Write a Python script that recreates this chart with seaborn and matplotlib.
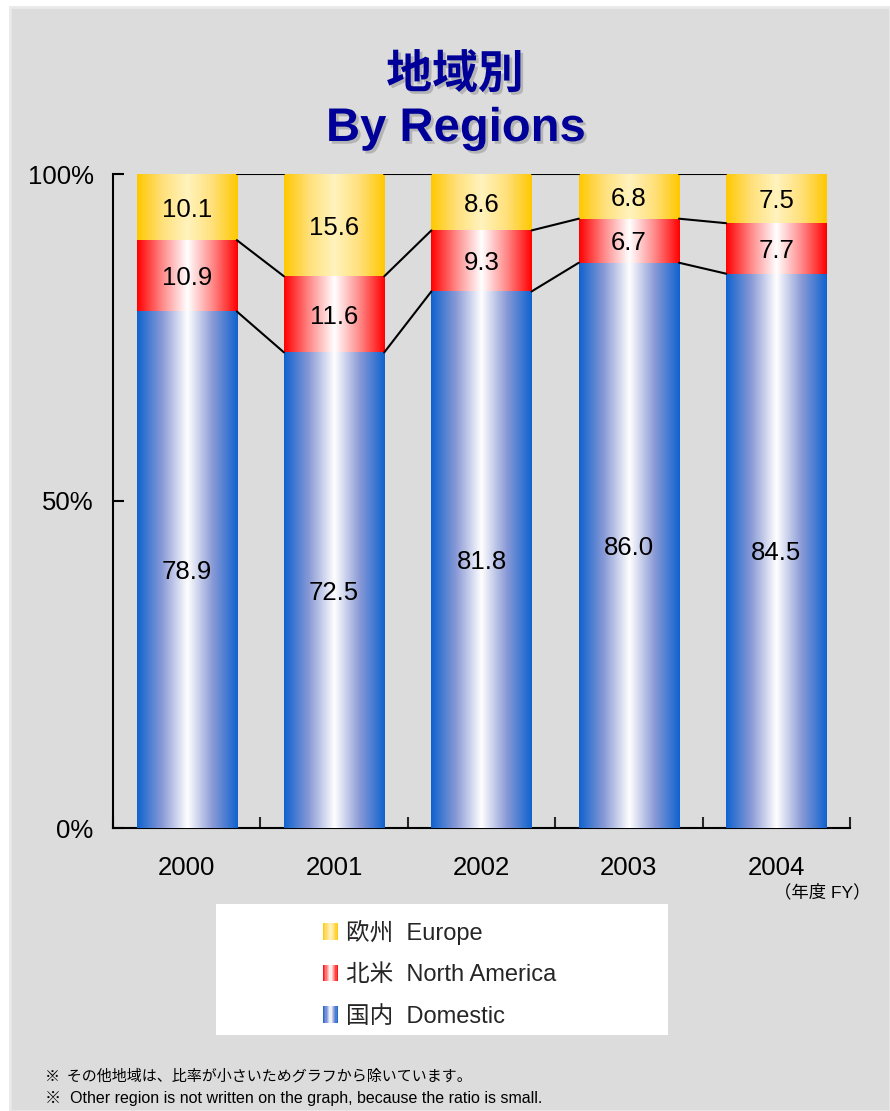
import numpy as np
import pandas as pd
import matplotlib
matplotlib.use("Agg")
import matplotlib.pyplot as plt
import matplotlib.patheffects as pe
import seaborn as sns
from matplotlib.colors import LinearSegmentedColormap
from matplotlib.patches import Rectangle, Patch
from matplotlib.legend_handler import HandlerBase

# ======================================
# DATA
# ======================================
years = ["2000", "2001", "2002", "2003", "2004"]
domestic = [78.9, 72.5, 81.8, 86.0, 84.5]
north_america = [10.9, 11.6, 9.3, 6.7, 7.7]
europe = [10.1, 15.6, 8.6, 6.8, 7.5]

regions = ["domestic", "north_america", "europe"]
legend_labels = {
    "europe": "欧州  Europe",
    "north_america": "北米  North America",
    "domestic": "国内  Domestic",
}
yticks = [0, 50, 100]
ytick_labels = ["0%", "50%", "100%"]

# ======================================
# STYLE
# ======================================
sns.set_theme(style="white")
FONTS = ["Liberation Sans", "Noto Sans CJK JP", "DejaVu Sans"]
plt.rcParams["font.family"] = FONTS

BG = "#dcdcdc"
cmaps = {
    "domestic": LinearSegmentedColormap.from_list(
        "dom", ["#0f62cf", "#8a9ad6", "#ffffff", "#8a9ad6", "#0f62cf"]),
    "north_america": LinearSegmentedColormap.from_list(
        "na", ["#ff0000", "#ff8a8a", "#ffffff", "#ff8a8a", "#ff0000"]),
    "europe": LinearSegmentedColormap.from_list(
        "eu", ["#ffc800", "#ffe07a", "#fff3bd", "#ffe07a", "#ffc800"]),
}

df = pd.DataFrame({"year": years, "domestic": domestic,
                   "north_america": north_america, "europe": europe})
# 100% stacked: shares of the shown regions
share = df[regions].div(df[regions].sum(axis=1), axis=0) * 100

fig = plt.figure(figsize=(8.9, 11.11), dpi=100, facecolor="white")
W, H = 890, 1111
fig.patches.append(Rectangle((10 / W, 0), (W - 10) / W, (H - 7) / H,
                             transform=fig.transFigure, facecolor=BG,
                             edgecolor="#e9e9e9", linewidth=2, zorder=-10))

ax = fig.add_axes([113 / W, 1 - 828 / H, (850 - 113) / W, (828 - 174) / H])
ax.set_facecolor("none")
ax.set_zorder(2)

# ======================================
# STACKED BARS
# ======================================
bottom = np.zeros(len(years))
bar_groups = {}
for reg in regions:
    n_before = len(ax.patches)
    sns.barplot(x=df["year"], y=share[reg], bottom=bottom, ax=ax,
                color="white", width=0.68, errorbar=None,
                linewidth=0, zorder=2)
    bar_groups[reg] = ax.patches[n_before:]
    bottom = bottom + share[reg].values

# gradient fill for every segment
grad = np.linspace(0, 1, 256).reshape(1, -1)
for reg in regions:
    for p in bar_groups[reg]:
        x0, y0 = p.get_x(), p.get_y()
        im = ax.imshow(grad, extent=[x0, x0 + p.get_width(), y0, y0 + p.get_height()],
                       aspect="auto", cmap=cmaps[reg], interpolation="bilinear",
                       zorder=3)
        im.set_clip_path(p)

# value labels
for reg in regions:
    vals = df[reg].values
    for p, v in zip(bar_groups[reg], vals):
        ax.text(p.get_x() + p.get_width() / 2, p.get_y() + p.get_height() / 2,
                f"{v:.1f}", ha="center", va="center_baseline", fontsize=18.5,
                color="black", zorder=5)

# connecting lines between the bars
for reg in regions:
    bars = bar_groups[reg]
    for a, b in zip(bars[:-1], bars[1:]):
        ax.plot([a.get_x() + a.get_width(), b.get_x()],
                [a.get_y() + a.get_height(), b.get_y() + b.get_height()],
                color="black", linewidth=1.5, zorder=4)

# ======================================
# AXES
# ======================================
ax.set_xlim(-0.5, len(years) - 0.5)
ax.set_ylim(0, 100)
ax.set_xlabel("")
ax.set_ylabel("")
ax.set_yticks(yticks)
ax.set_yticklabels(ytick_labels)
ax.set_xticks(range(len(years)))
ax.set_xticklabels(years)
ax.set_xticks(np.arange(-0.5, len(years)), minor=True)
ax.tick_params(axis="y", direction="in", length=8, width=1.5, labelsize=18.5,
               pad=14, left=True, colors="black")
ax.tick_params(axis="x", which="major", length=0, labelsize=18.5, pad=20,
               colors="black")
ax.tick_params(axis="x", which="minor", direction="in", length=8, width=1.5,
               bottom=True)
for s in ["top", "right"]:
    ax.spines[s].set_visible(False)
for s in ["left", "bottom"]:
    ax.spines[s].set_color("black")
    ax.spines[s].set_linewidth(1.5)

# ======================================
# TITLE / NOTES
# ======================================
shadow = [pe.withSimplePatchShadow(offset=(2, -2), shadow_rgbFace="#9a9a9a", alpha=0.6)]
fig.text(455 / W, 1 - 75 / H, "地域別", ha="center", va="center",
         fontsize=33, fontweight="bold", color="#000099",
         family=["Noto Sans CJK JP"], path_effects=shadow)
fig.text(456 / W, 1 - 129 / H, "By Regions", ha="center", va="center",
         fontsize=34, fontweight="bold", color="#000099",
         family=FONTS, path_effects=shadow)

fig.text(870 / W, 1 - 892 / H, "（年度 FY）", ha="right", va="center",
         fontsize=12.5, color="black", family=FONTS)

fig.text(45 / W, 1 - 1076 / H, "※  その他地域は、比率が小さいためグラフから除いています。",
         ha="left", va="center", fontsize=10.8, color="black",
         family=["Noto Sans CJK JP", "DejaVu Sans"])
fig.text(45 / W, 1 - 1099 / H,
         "※  Other region is not written on the graph, because the ratio is small.",
         ha="left", va="center", fontsize=11.5, color="black", family=FONTS)

# ======================================
# LEGEND
# ======================================
class GradientHandler(HandlerBase):
    def __init__(self, cmap, n=12):
        super().__init__()
        self.cmap = cmap
        self.n = n

    def create_artists(self, legend, orig_handle, xdescent, ydescent,
                       width, height, fontsize, trans):
        arts = []
        for k in range(self.n):
            arts.append(Rectangle((-xdescent + width * k / self.n, -ydescent),
                                  width / self.n, height,
                                  facecolor=self.cmap((k + 0.5) / self.n),
                                  edgecolor="none", transform=trans))
        return arts

fig.patches.append(Rectangle((216 / W, 1 - 1035 / H), (668 - 216) / W, (1035 - 904) / H,
                             transform=fig.transFigure, facecolor="white",
                             edgecolor="none", zorder=-5))

order = ["europe", "north_america", "domestic"]
handles = [Patch(label=legend_labels[r]) for r in order]
hmap = {h: GradientHandler(cmaps[r]) for h, r in zip(handles, order)}
fig.legend(handles=handles, handler_map=hmap, loc="upper left",
           bbox_to_anchor=(311 / W, 1 - 908 / H), frameon=False,
           handlelength=0.64, handleheight=0.7,
           handletextpad=0.35, labelspacing=0.82, borderpad=0,
           prop={"family": FONTS, "size": 17})

fig.savefig("out.png", dpi=100, facecolor=fig.get_facecolor())
